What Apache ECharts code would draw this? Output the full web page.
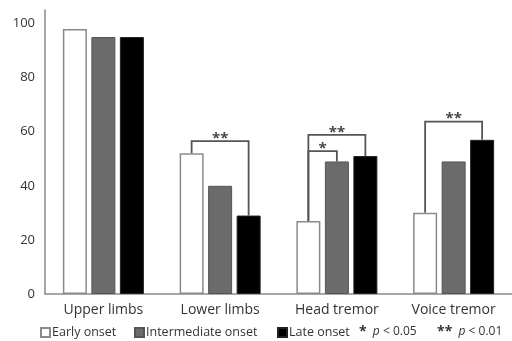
<!DOCTYPE html>
<html><head><meta charset="utf-8">
<script src="https://cdn.jsdelivr.net/npm/echarts@6/dist/echarts.min.js"></script>
<style>html,body{margin:0;padding:0;background:#fff}#c{width:512px;height:341px}</style>
</head><body><div id="c"></div>
<script>
const categories = ['Upper limbs', 'Lower limbs', 'Head tremor', 'Voice tremor'];
const seriesNames = ['Early onset', 'Intermediate onset', 'Late onset'];
const earlyOnset = [98, 52, 27, 30];
const intermediateOnset = [95, 40, 49, 49];
const lateOnset = [95, 29, 51, 57];
const yTicks = [0, 20, 40, 60, 80, 100];
// significance brackets: [categoryIndex, fromBar, toBar, bracketHeight, label]
const brackets = [
  [1, 0, 2, 56.5, '**'],
  [2, 0, 1, 52.8, '*'],
  [2, 0, 2, 58.8, '**'],
  [3, 0, 2, 63.7, '**']
];
const pNotes = [['*', '0.05'], ['**', '0.01']];

const values = [earlyOnset, intermediateOnset, lateOnset];
const BAR_W = 24, BAR_GAP = 4.5;
const FONT = 'Open Sans';
const legendLefts = [40, 134, 277];

const chart = echarts.init(document.getElementById('c'), null, {renderer: 'canvas'});
const option = {
  animation: false,
  textStyle: {fontFamily: FONT},
  grid: {left: 45, right: -8, top: 10, bottom: 47, containLabel: false},
  xAxis: {
    type: 'category', data: categories,
    axisLine: {lineStyle: {color: '#8a8a8a', width: 1.5}},
    axisTick: {show: false},
    axisLabel: {color: '#333', fontSize: 14, margin: 9, fontFamily: FONT}
  },
  yAxis: {
    type: 'value', min: 0, max: 105, interval: 20,
    axisLine: {show: true, lineStyle: {color: '#8a8a8a', width: 1.5}},
    axisTick: {show: false},
    splitLine: {show: false},
    axisLabel: {color: '#333', fontSize: 13, margin: 10, fontFamily: FONT,
      formatter: v => yTicks.indexOf(v) >= 0 ? String(v) : ''}
  },
  legend: seriesNames.map((n, i) => ({
    data: [n], left: legendLefts[i], top: 326, padding: 0, itemWidth: 9, itemHeight: 9,
    icon: 'rect', selectedMode: false,
    textStyle: {color: '#333', fontSize: 12.5, fontFamily: FONT, padding: [0, 0, 0, -3]}
  })),
  series: [
    {name: seriesNames[0], type: 'bar', data: earlyOnset, barWidth: BAR_W, barGap: (BAR_GAP / BAR_W * 100) + '%',
      itemStyle: {color: '#ffffff', borderColor: '#8a8a8a', borderWidth: 1.5}},
    {name: seriesNames[1], type: 'bar', data: intermediateOnset, barWidth: BAR_W,
      itemStyle: {color: '#6b6b6b', borderColor: '#555', borderWidth: 1}},
    {name: seriesNames[2], type: 'bar', data: lateOnset, barWidth: BAR_W,
      itemStyle: {color: '#000000', borderColor: '#222', borderWidth: 1}},
    {
      type: 'custom', name: 'sig', data: brackets, silent: true,
      encode: {x: 0, y: 3},
      renderItem: function (params, api) {
        const cat = api.value(0), a = api.value(1), b = api.value(2), h = api.value(3);
        const label = brackets[params.dataIndex][4];
        const step = BAR_W + BAR_GAP;
        const center = api.coord([cat, 0])[0];
        const xa = center + (a - 1) * step, xb = center + (b - 1) * step;
        const yTop = api.coord([cat, h])[1];
        const ya = api.coord([cat, values[a][cat]])[1];
        const yb = api.coord([cat, values[b][cat]])[1];
        const ls = {stroke: '#555', lineWidth: 1.8, fill: null};
        return {
          type: 'group',
          children: [
            {type: 'polyline', shape: {points: [[xa, ya], [xa, yTop], [xb, yTop], [xb, yb]]}, style: ls},
            {type: 'text', style: {text: label, x: (xa + xb) / 2, y: yTop + 5, textAlign: 'center', textVerticalAlign: 'bottom',
              fill: '#444', font: 'bold 15px ' + FONT}}
          ]
        };
      }
    }
  ],
  graphic: pNotes.map((p, i) => ({
    type: 'text', left: 359 + i * 78, top: 325,
    style: {
      text: '{s|' + p[0] + '}  {i|p} < ' + p[1],
      fill: '#333', font: '12px ' + FONT,
      rich: {s: {font: 'bold 14px ' + FONT, fill: '#333'}, i: {font: 'italic 12px ' + FONT, fill: '#333'}}
    }
  }))
};
chart.setOption(option);
</script></body></html>
